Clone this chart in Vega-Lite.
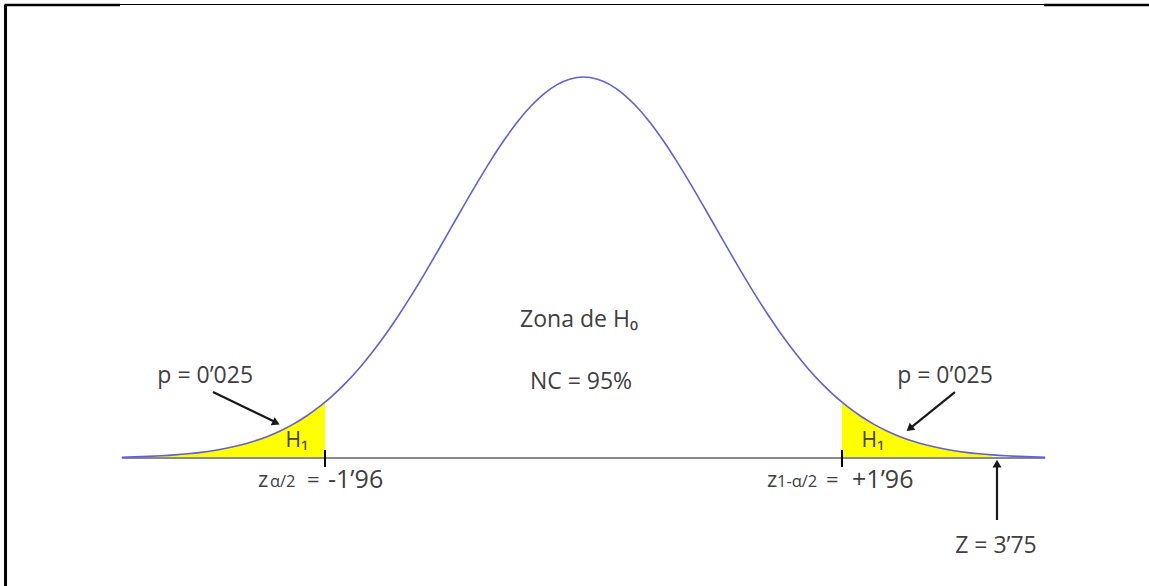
{
  "$schema": "https://vega.github.io/schema/vega-lite/v6.json",
  "width": 1149,
  "height": 586,
  "autosize": {"type": "none"},
  "padding": 0,
  "background": "white",
  "config": {"view": {"stroke": null}, "text": {"font": "Open Sans", "color": "#404040"}},
  "datasets": {
    "curve": [
      {"z": -3.5, "v": 0.00087}, {"z": -3.4, "v": 0.00123}, {"z": -3.3, "v": 0.00172}, {"z": -3.2, "v": 0.00238},
      {"z": -3.1, "v": 0.00327}, {"z": -3.0, "v": 0.00443}, {"z": -2.9, "v": 0.00595}, {"z": -2.8, "v": 0.00792},
      {"z": -2.7, "v": 0.01042}, {"z": -2.6, "v": 0.01358}, {"z": -2.5, "v": 0.01753}, {"z": -2.4, "v": 0.02239},
      {"z": -2.3, "v": 0.02833}, {"z": -2.2, "v": 0.03547}, {"z": -2.1, "v": 0.04398}, {"z": -2.0, "v": 0.05399},
      {"z": -1.96, "v": 0.05844}, {"z": -1.9, "v": 0.06562}, {"z": -1.8, "v": 0.07895}, {"z": -1.7, "v": 0.09405},
      {"z": -1.6, "v": 0.11092}, {"z": -1.5, "v": 0.12952}, {"z": -1.4, "v": 0.14973}, {"z": -1.3, "v": 0.17137},
      {"z": -1.2, "v": 0.19419}, {"z": -1.1, "v": 0.21785}, {"z": -1.0, "v": 0.24197}, {"z": -0.9, "v": 0.26609},
      {"z": -0.8, "v": 0.28969}, {"z": -0.7, "v": 0.31225}, {"z": -0.6, "v": 0.33322}, {"z": -0.5, "v": 0.35207},
      {"z": -0.4, "v": 0.36827}, {"z": -0.3, "v": 0.38139}, {"z": -0.2, "v": 0.39104}, {"z": -0.1, "v": 0.39695},
      {"z": 0.0, "v": 0.39894},
      {"z": 0.1, "v": 0.39695}, {"z": 0.2, "v": 0.39104}, {"z": 0.3, "v": 0.38139}, {"z": 0.4, "v": 0.36827},
      {"z": 0.5, "v": 0.35207}, {"z": 0.6, "v": 0.33322}, {"z": 0.7, "v": 0.31225}, {"z": 0.8, "v": 0.28969},
      {"z": 0.9, "v": 0.26609}, {"z": 1.0, "v": 0.24197}, {"z": 1.1, "v": 0.21785}, {"z": 1.2, "v": 0.19419},
      {"z": 1.3, "v": 0.17137}, {"z": 1.4, "v": 0.14973}, {"z": 1.5, "v": 0.12952}, {"z": 1.6, "v": 0.11092},
      {"z": 1.7, "v": 0.09405}, {"z": 1.8, "v": 0.07895}, {"z": 1.9, "v": 0.06562}, {"z": 1.96, "v": 0.05844},
      {"z": 2.0, "v": 0.05399}, {"z": 2.1, "v": 0.04398}, {"z": 2.2, "v": 0.03547}, {"z": 2.3, "v": 0.02833},
      {"z": 2.4, "v": 0.02239}, {"z": 2.5, "v": 0.01753}, {"z": 2.6, "v": 0.01358}, {"z": 2.7, "v": 0.01042},
      {"z": 2.8, "v": 0.00792}, {"z": 2.9, "v": 0.00595}, {"z": 3.0, "v": 0.00443}, {"z": 3.1, "v": 0.00327},
      {"z": 3.2, "v": 0.00238}, {"z": 3.3, "v": 0.00172}, {"z": 3.4, "v": 0.00123}, {"z": 3.5, "v": 0.00087}
    ]
  },
  "encoding": {
    "x": {"field": "z", "type": "quantitative", "scale": {"domain": [-4.4238, 4.2874], "nice": false, "zero": false}, "axis": null},
    "y": {"field": "v", "type": "quantitative", "scale": {"domain": [-0.134, 0.4796], "nice": false, "zero": false}, "axis": null}
  },
  "layer": [
    {
      "data": {"values": [
        {"z": -4.382, "v": 0.4743, "z2": -4.382, "v2": -0.134}
      ]},
      "mark": {"type": "rule", "color": "black", "strokeWidth": 3},
      "encoding": {"x2": {"field": "z2"}, "y2": {"field": "v2"}}
    },
    {
      "data": {"values": [
        {"z": -4.39, "v": 0.4743, "z2": -3.514, "v2": 0.4743},
        {"z": 3.492, "v": 0.4743, "z2": 4.29, "v2": 0.4743}
      ]},
      "mark": {"type": "rule", "color": "black", "strokeWidth": 2.5},
      "encoding": {"x2": {"field": "z2"}, "y2": {"field": "v2"}}
    },
    {
      "data": {"values": [
        {"z": -3.514, "v": 0.4749, "z2": 3.492, "v2": 0.4749}
      ]},
      "mark": {"type": "rule", "color": "black", "strokeWidth": 1.2},
      "encoding": {"x2": {"field": "z2"}, "y2": {"field": "v2"}}
    },
    {
      "data": {"name": "curve"},
      "transform": [{"filter": {"field": "z", "lte": -1.96}}],
      "mark": {"type": "area", "color": "#ffff00", "opacity": 1},
      "encoding": {"y2": {"datum": 0}}
    },
    {
      "data": {"name": "curve"},
      "transform": [{"filter": {"field": "z", "range": [1.96, 3.1]}}],
      "mark": {"type": "area", "color": "#ffff00", "opacity": 1},
      "encoding": {"y2": {"datum": 0}}
    },
    {
      "data": {"values": [
        {"z": -3.5, "v": 0, "z2": 3.5, "v2": 0}
      ]},
      "mark": {"type": "rule", "color": "#8a8a8a", "strokeWidth": 2},
      "encoding": {"x2": {"field": "z2"}, "y2": {"field": "v2"}}
    },
    {
      "data": {"name": "curve"},
      "mark": {"type": "line", "color": "#6060d8", "strokeWidth": 1.6, "interpolate": "monotone"},
      "encoding": {}
    },
    {
      "data": {"values": [
        {"z": -1.96, "v": 0.0084, "z2": -1.96, "v2": -0.0094},
        {"z": 1.96, "v": 0.0084, "z2": 1.96, "v2": -0.0094}
      ]},
      "mark": {"type": "rule", "color": "black", "strokeWidth": 2},
      "encoding": {"x2": {"field": "z2"}, "y2": {"field": "v2"}}
    },
    {
      "data": {"values": [
        {"z": -2.809, "v": 0.0691, "z2": -2.345, "v2": 0.0382},
        {"z": 2.816, "v": 0.0691, "z2": 2.485, "v2": 0.0322},
        {"z": 3.135, "v": -0.0649, "z2": 3.135, "v2": -0.0060}
      ]},
      "mark": {"type": "rule", "color": "#1a1a1a", "strokeWidth": 2.2},
      "encoding": {"x2": {"field": "z2"}, "y2": {"field": "v2"}}
    },
    {
      "data": {"values": [{"z": -2.33, "v": 0.0368}]},
      "mark": {"type": "point", "shape": "triangle-up", "filled": true, "color": "#1a1a1a", "size": 80, "angle": 116, "opacity": 1},
      "encoding": {}
    },
    {
      "data": {"values": [{"z": 2.472, "v": 0.0308}]},
      "mark": {"type": "point", "shape": "triangle-up", "filled": true, "color": "#1a1a1a", "size": 80, "angle": 231, "opacity": 1},
      "encoding": {}
    },
    {
      "data": {"values": [{"z": 3.135, "v": -0.0058}]},
      "mark": {"type": "point", "shape": "triangle-up", "filled": true, "color": "#1a1a1a", "size": 80, "angle": 0, "opacity": 1},
      "encoding": {}
    },
    {
      "data": {"values": [
        {"label": "p = 0’025", "z": -2.868, "v": 0.0859},
        {"label": "p = 0’025", "z": 2.741, "v": 0.0859},
        {"label": "Zona de H₀", "z": -0.034, "v": 0.1445},
        {"label": "NC = 95%", "z": -0.019, "v": 0.0796},
        {"label": "Z = 3’75", "z": 3.127, "v": -0.0921}
      ]},
      "mark": {"type": "text", "fontSize": 23, "align": "center", "baseline": "middle"},
      "encoding": {"text": {"field": "label"}}
    },
    {
      "data": {"values": [
        {"label": "H₁", "z": -2.172, "v": 0.0178},
        {"label": "H₁", "z": 2.195, "v": 0.0178}
      ]},
      "mark": {"type": "text", "fontSize": 21, "align": "center", "baseline": "middle"},
      "encoding": {"text": {"field": "label"}}
    },
    {
      "data": {"values": [
        {"label": "z", "z": -2.468, "v": -0.0225},
        {"label": "=", "z": -2.096, "v": -0.0225},
        {"label": "z", "z": 1.391, "v": -0.0225},
        {"label": "=", "z": 1.838, "v": -0.0225}
      ]},
      "mark": {"type": "text", "fontSize": 22, "align": "left", "baseline": "middle"},
      "encoding": {"text": {"field": "label"}}
    },
    {
      "data": {"values": [
        {"label": "-1’96", "z": -1.937, "v": -0.0225},
        {"label": "+1’96", "z": 2.036, "v": -0.0225}
      ]},
      "mark": {"type": "text", "fontSize": 25, "align": "left", "baseline": "middle"},
      "encoding": {"text": {"field": "label"}}
    },
    {
      "data": {"values": [
        {"label": "α/2", "z": -2.377, "v": -0.0255},
        {"label": "1-α/2", "z": 1.467, "v": -0.0255}
      ]},
      "mark": {"type": "text", "fontSize": 16.5, "align": "left", "baseline": "middle"},
      "encoding": {"text": {"field": "label"}}
    }
  ]
}
